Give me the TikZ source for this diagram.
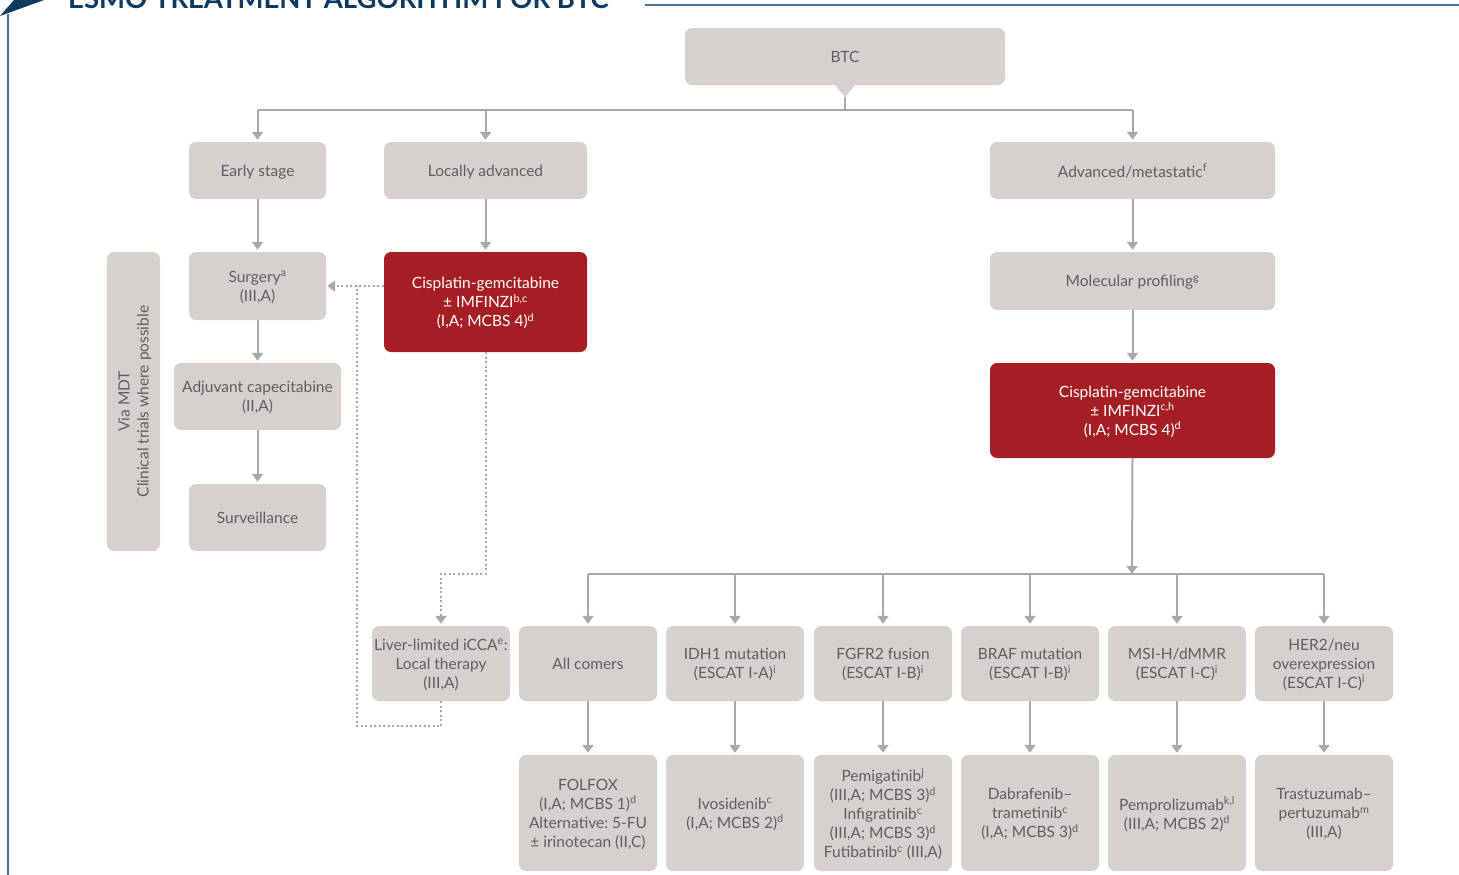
\documentclass[tikz,border=0pt]{standalone}
\usepackage{fontspec}
\setmainfont{Lato}
\frenchspacing
\usetikzlibrary{arrows.meta}
\definecolor{boxgray}{HTML}{D6D1CE}
\definecolor{txtgray}{HTML}{5E5E60}
\definecolor{esmored}{HTML}{A61E25}
\definecolor{linegray}{HTML}{A9A9A9}
\definecolor{navy}{HTML}{0D3A5F}
\definecolor{rulblue}{HTML}{4E7596}
\tikzset{
  box/.style={fill=boxgray, rounded corners=7pt, text=txtgray, align=center,
    font=\fontsize{15.5}{19}\selectfont, inner sep=0pt, text depth=0pt},
  redbox/.style={box, fill=esmored, text=white},
  tip/.style={-{Triangle[width=11pt,length=8pt]}},
  conn/.style={draw=linegray, line width=2pt, tip, shorten >=2pt},
  plain/.style={draw=linegray, line width=2pt},
  dotline/.style={draw=linegray, line width=2pt, dash pattern=on 2pt off 2.5pt},
  r2/.style={box, minimum width=138pt, minimum height=75pt},
  r3/.style={box, minimum width=138pt, minimum height=116pt},
}
\begin{document}
\begin{tikzpicture}[x=1pt,y=-1pt]
\useasboundingbox (0,0) rectangle (1459,875);
\clip (0,0) rectangle (1459,875);
% header
\fill[navy] (0,16) -- (44,0) -- (14,0) -- cycle;
\draw[rulblue, line width=1.5pt] (8,14) -- (8,875);
\draw[rulblue, line width=1.5pt] (645,5) -- (1459,5);
\node[anchor=base west, inner sep=0pt, text=navy, font=\fontsize{27.5}{30}\selectfont\bfseries] (title) at (68,9) {ESMO TREATMENT ALGORITHM FOR BTC};
% top level
\node[box, minimum width=320pt, minimum height=57pt] (btc) at (845,56.5) {BTC};
\node[box, minimum width=137pt, minimum height=57pt] (early) at (257.5,170.5) {Early stage};
\node[box, minimum width=203pt, minimum height=57pt] (locadv) at (485.5,170.5) {Locally advanced};
\node[box, minimum width=285pt, minimum height=57pt] (adv) at (1132.5,170.5) {Advanced/metastatic\textsuperscript{f}};
% early branch
\node[box, minimum width=137pt, minimum height=68pt] (surgery) at (257.5,286) {Surgery\textsuperscript{a}\\(III,A)};
\node[box, minimum width=167pt, minimum height=67pt] (adjuv) at (257.5,396.5) {Adjuvant capecitabine\\(II,A)};
\node[box, minimum width=137pt, minimum height=67pt] (surv) at (257.5,517.5) {Surveillance};
\node[box, minimum width=299pt, minimum height=53pt, rotate=90] (mdt) at (133.5,401.5) {Via MDT\\Clinical trials where possible};
% locally advanced
\node[redbox, minimum width=203pt, minimum height=100pt] (redL) at (485.5,302) {Cisplatin-gemcitabine\\± IMFINZI\textsuperscript{b,c}\\(I,A; MCBS 4)\textsuperscript{d}};
% advanced
\node[box, minimum width=285pt, minimum height=58pt] (molprof) at (1132.5,281) {Molecular profiling\textsuperscript{g}};
\node[redbox, minimum width=285pt, minimum height=95pt] (redR) at (1132.5,410.5) {Cisplatin-gemcitabine\\± IMFINZI\textsuperscript{c,h}\\(I,A; MCBS 4)\textsuperscript{d}};
% row 2
\node[r2] (liver) at (441,663.5) {Liver-limited iCCA\textsuperscript{e}:\\Local therapy\\(III,A)};
\node[r2] (allc) at (588,663.5) {All comers};
\node[r2] (idh) at (735,663.5) {IDH1 mutation\\(ESCAT I-A)\textsuperscript{i}};
\node[r2] (fgfr) at (883,663.5) {FGFR2 fusion\\(ESCAT I-B)\textsuperscript{i}};
\node[r2] (braf) at (1030,663.5) {BRAF mutation\\(ESCAT I-B)\textsuperscript{i}};
\node[r2] (msi) at (1177,663.5) {MSI-H/dMMR\\(ESCAT I-C)\textsuperscript{i}};
\node[r2] (her2) at (1324,663.5) {HER2/neu\\overexpression\\(ESCAT I-C)\textsuperscript{i}};
% row 3
\node[r3] (folfox) at (588,813) {FOLFOX\\(I,A; MCBS 1)\textsuperscript{d}\\Alternative: 5-FU\\± irinotecan (II,C)};
\node[r3] (ivo) at (735,813) {Ivosidenib\textsuperscript{c}\\(I,A; MCBS 2)\textsuperscript{d}};
\node[r3] (pemi) at (883,813) {Pemigatinib\textsuperscript{j}\\(III,A; MCBS 3)\textsuperscript{d}\\Infigratinib\textsuperscript{c}\\(III,A; MCBS 3)\textsuperscript{d}\\Futibatinib\textsuperscript{c} (III,A)};
\node[r3] (dabra) at (1030,813) {Dabrafenib--\\trametinib\textsuperscript{c}\\(I,A; MCBS 3)\textsuperscript{d}};
\node[r3] (pembro) at (1177,813) {Pemprolizumab\textsuperscript{k,l}\\(III,A; MCBS 2)\textsuperscript{d}};
\node[r3] (trast) at (1324,813) {Trastuzumab--\\pertuzumab\textsuperscript{m}\\(III,A)};
% connectors top
\coordinate (hub) at (845,110);
\fill[boxgray] ([xshift=-10pt]btc.south) -- ([xshift=10pt]btc.south) -- ([yshift=-12pt]btc.south) -- cycle;
\draw[plain] ([yshift=-12pt]btc.south) -- (hub);
\draw[plain] (early.north |- hub) -- (adv.north |- hub);
\draw[conn] (early.north |- hub) -- (early.north);
\draw[conn] (locadv.north |- hub) -- (locadv.north);
\draw[conn] (adv.north |- hub) -- (adv.north);
\draw[conn] (early) -- (surgery);
\draw[conn] (surgery) -- (adjuv);
\draw[conn] (adjuv) -- (surv);
\draw[conn] (locadv) -- (redL);
\draw[conn] (adv) -- (molprof);
\draw[conn] (molprof) -- (redR);
% dotted
\coordinate (dj) at (357,286);
\draw[dotline, tip, shorten >=1pt] (surgery.east -| redL.west) -- (surgery.east);
\draw[dotline] (liver.south) -- ++(0,25) -| (dj);
\coordinate (bus) at (1132,574);
\draw[dotline, tip, shorten >=2pt] (redL.south) |- (liver.north |- bus) -- (liver.north);
% bus
\draw[plain, tip] (redR.south) -- (bus);
\draw[plain] (allc.north |- bus) -- (her2.north |- bus);
\foreach \n in {allc,idh,fgfr,braf,msi,her2}{
  \draw[conn] (\n.north |- bus) -- (\n.north);
}
\draw[conn] (allc) -- (folfox);
\draw[conn] (idh) -- (ivo);
\draw[conn] (fgfr) -- (pemi);
\draw[conn] (braf) -- (dabra);
\draw[conn] (msi) -- (pembro);
\draw[conn] (her2) -- (trast);
\end{tikzpicture}
\end{document}
